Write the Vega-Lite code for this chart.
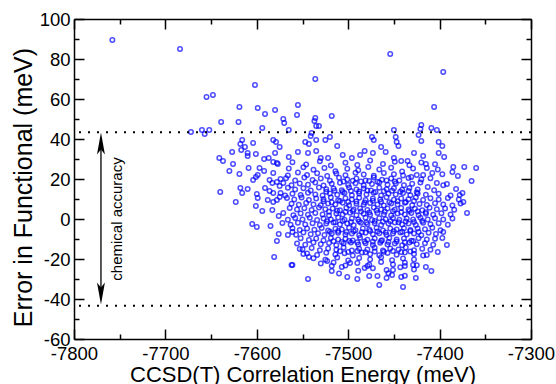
{
"$schema":"https://vega.github.io/schema/vega-lite/v6.json",
"width":457,"height":320,
"autosize":{"type":"none"},
"padding":{"left":74,"top":19,"right":25,"bottom":45},
"background":"white",
"datasets":{
"pts":[
{"x":-7758,"y":89.5},{"x":-7684,"y":85},{"x":-7454,"y":82.5},{"x":-7396,"y":73.5},{"x":-7536,"y":70},{"x":-7602,"y":67},{"x":-7655,"y":61},{"x":-7648,"y":62},{"x":-7555,"y":57},{"x":-7619,"y":56},{"x":-7406,"y":56},{"x":-7599,"y":55.5},{"x":-7580,"y":54.5},{"x":-7591,"y":52.5},{"x":-7556,"y":52},{"x":-7518,"y":51.5},{"x":-7536,"y":50.5},{"x":-7571,"y":50},{"x":-7537,"y":49},{"x":-7639,"y":48.5},{"x":-7620,"y":48.5},{"x":-7570,"y":48},{"x":-7420,"y":47},{"x":-7535,"y":46.5},{"x":-7532,"y":46.5},{"x":-7409,"y":45.5},{"x":-7594,"y":45.5},{"x":-7421,"y":45},{"x":-7565,"y":44.5},{"x":-7450,"y":44.5},{"x":-7403,"y":44.5},{"x":-7660,"y":44.5},{"x":-7652,"y":44.5},{"x":-7672,"y":43.5},{"x":-7657,"y":42.5},{"x":-7540,"y":43},{"x":-7423,"y":42},{"x":-7541,"y":41.5},{"x":-7448,"y":41},{"x":-7474,"y":41},{"x":-7520,"y":41},
{"x":-7547,"y":38.5},{"x":-7543,"y":37.5},{"x":-7535,"y":39.5},{"x":-7525,"y":39.5},{"x":-7512,"y":36.5},{"x":-7555,"y":33.5},{"x":-7544,"y":33},{"x":-7535,"y":34},{"x":-7530,"y":30.5},{"x":-7522,"y":30.5},{"x":-7506,"y":32},{"x":-7496,"y":30.5},{"x":-7487,"y":32},{"x":-7482,"y":34},{"x":-7473,"y":33},{"x":-7464,"y":36},{"x":-7472,"y":39.5},{"x":-7459,"y":33.5},{"x":-7447,"y":38.5},{"x":-7445,"y":36.5},{"x":-7420,"y":39},{"x":-7401,"y":38.5},{"x":-7397,"y":36.5},{"x":-7428,"y":33},{"x":-7401,"y":33},{"x":-7418,"y":31.5},{"x":-7395,"y":31},{"x":-7450,"y":30.5},{"x":-7442,"y":29},{"x":-7435,"y":29},{"x":-7415,"y":27.5},{"x":-7414,"y":25.5},{"x":-7385,"y":26},{"x":-7373,"y":26},{"x":-7360,"y":25.5},{"x":-7386,"y":23.5},{"x":-7408,"y":23},{"x":-7425,"y":22},{"x":-7380,"y":21.5},{"x":-7431,"y":21},{"x":-7365,"y":19},{"x":-7392,"y":17.5},{"x":-7403,"y":18},{"x":-7413,"y":16},{"x":-7382,"y":15},{"x":-7375,"y":13},{"x":-7565,"y":31},
{"x":-7616,"y":39.5},{"x":-7618,"y":37.5},{"x":-7613,"y":36},{"x":-7604,"y":38},{"x":-7617,"y":34.5},{"x":-7627,"y":33.5},{"x":-7610,"y":33},{"x":-7610,"y":31.5},{"x":-7601,"y":32.5},{"x":-7582,"y":39.5},{"x":-7579,"y":38.5},{"x":-7575,"y":36},{"x":-7580,"y":33},{"x":-7641,"y":30.5},{"x":-7637,"y":29},{"x":-7626,"y":27.5},{"x":-7630,"y":24},{"x":-7619,"y":22.5},{"x":-7592,"y":30},{"x":-7582,"y":28.5},{"x":-7577,"y":27.5},{"x":-7597,"y":25.5},{"x":-7592,"y":24},{"x":-7599,"y":22},{"x":-7601,"y":21},{"x":-7582,"y":23},{"x":-7604,"y":19.5},{"x":-7586,"y":19.5},{"x":-7583,"y":18},{"x":-7578,"y":18.5},{"x":-7574,"y":20},{"x":-7591,"y":15.5},{"x":-7618,"y":15.5},{"x":-7616,"y":13},{"x":-7610,"y":15},{"x":-7640,"y":13.5},{"x":-7600,"y":12.5},{"x":-7599,"y":10.5},{"x":-7623,"y":8.5},{"x":-7586,"y":14},{"x":-7582,"y":13},{"x":-7588,"y":9.5},{"x":-7582,"y":8.5},{"x":-7578,"y":9.5},{"x":-7575,"y":16.5},{"x":-7574,"y":13},{"x":-7575,"y":11},{"x":-7601,"y":6.5},{"x":-7594,"y":4},{"x":-7583,"y":4.5},{"x":-7576,"y":1.5},{"x":-7571,"y":3},{"x":-7605,"y":-2.5},{"x":-7600,"y":-4},{"x":-7585,"y":-3.5},{"x":-7572,"y":-2},{"x":-7576,"y":-7.5},{"x":-7578,"y":-11},{"x":-7581,"y":-19},{"x":-7609,"y":25.5},{"x":-7587,"y":30.5},{"x":-7578,"y":28},
{"x":-7561,"y":-23},{"x":-7544,"y":-30},{"x":-7523,"y":-21},{"x":-7518,"y":-23.5},{"x":-7518,"y":-26},{"x":-7507,"y":-24},{"x":-7501,"y":-29},{"x":-7498,"y":-22},{"x":-7490,"y":-30},{"x":-7482,"y":-24.5},{"x":-7477,"y":-28.5},{"x":-7468,"y":-28.5},{"x":-7466,"y":-33},{"x":-7479,"y":-23.5},{"x":-7440,"y":-34},{"x":-7458,"y":-29.5},{"x":-7452,"y":-28},{"x":-7442,"y":-29},{"x":-7426,"y":-29.5},{"x":-7409,"y":-26},{"x":-7415,"y":-24},{"x":-7429,"y":-23},{"x":-7438,"y":-23.5},{"x":-7451,"y":-25.5},{"x":-7414,"y":-18},{"x":-7402,"y":-16.5},{"x":-7392,"y":-13},{"x":-7397,"y":-9.5},{"x":-7396,"y":-6.5},{"x":-7370,"y":3},{"x":-7374,"y":8.5},{"x":-7378,"y":12},{"x":-7553,"y":-15},{"x":-7549,"y":-17.5},{"x":-7543,"y":-19},{"x":-7561,"y":-6.5},{"x":-7566,"y":-8},{"x":-7562,"y":-23},
{"x":-7561,"y":28.4},{"x":-7546,"y":27.2},{"x":-7531,"y":28.9},{"x":-7519,"y":26.8},{"x":-7503,"y":28.1},{"x":-7490,"y":27},{"x":-7476,"y":29.2},{"x":-7462,"y":27.5},{"x":-7449,"y":28.6},{"x":-7433,"y":26.9},{"x":-7420,"y":28.3},{"x":-7405,"y":27.4},
{"x":-7565,"y":25.3},{"x":-7549,"y":25.9},{"x":-7538,"y":24.6},{"x":-7526,"y":25.5},{"x":-7514,"y":23.9},{"x":-7501,"y":25.1},{"x":-7489,"y":24.4},{"x":-7478,"y":26},{"x":-7466,"y":24.8},{"x":-7453,"y":25.6},{"x":-7441,"y":23.8},{"x":-7429,"y":25.2},{"x":-7402,"y":24.8},
{"x":-7566,"y":21.8},{"x":-7555,"y":23.2},{"x":-7545,"y":22},{"x":-7534,"y":22.9},{"x":-7523,"y":21.5},{"x":-7513,"y":22.7},{"x":-7503,"y":21.9},{"x":-7492,"y":23.1},{"x":-7483,"y":22.2},{"x":-7472,"y":21.6},{"x":-7461,"y":23},{"x":-7450,"y":22.4},{"x":-7440,"y":21.7},{"x":-7418,"y":22},{"x":-7397,"y":22.4},
{"x":-7568,"y":20.4},{"x":-7558,"y":19.2},{"x":-7548,"y":20.8},{"x":-7539,"y":19.5},{"x":-7530,"y":20.2},{"x":-7520,"y":19.1},{"x":-7510,"y":20.6},{"x":-7501,"y":19.8},{"x":-7491,"y":20.3},{"x":-7481,"y":19.2},{"x":-7472,"y":20.7},{"x":-7463,"y":19.6},{"x":-7453,"y":20.2},{"x":-7444,"y":19.3},{"x":-7434,"y":20.5},{"x":-7420,"y":19.7},{"x":-7410,"y":20.4},
{"x":-7571,"y":18},{"x":-7562,"y":16.9},{"x":-7553,"y":17.8},{"x":-7544,"y":17.1},{"x":-7536,"y":18.2},{"x":-7527,"y":16.8},{"x":-7518,"y":17.6},{"x":-7509,"y":18.1},{"x":-7500,"y":17},{"x":-7492,"y":17.9},{"x":-7483,"y":16.7},{"x":-7474,"y":17.5},{"x":-7466,"y":18.3},{"x":-7457,"y":17.1},{"x":-7448,"y":17.8},{"x":-7439,"y":16.9},{"x":-7430,"y":17.6},{"x":-7421,"y":18.2},{"x":-7396,"y":16.9},
{"x":-7566,"y":15.6},{"x":-7558,"y":14.8},{"x":-7549,"y":15.4},{"x":-7541,"y":14.3},{"x":-7532,"y":15.8},{"x":-7524,"y":14.9},{"x":-7516,"y":15.3},{"x":-7507,"y":14.4},{"x":-7499,"y":15.7},{"x":-7491,"y":14.8},{"x":-7483,"y":15.2},{"x":-7475,"y":14.3},{"x":-7466,"y":15.6},{"x":-7458,"y":14.9},{"x":-7450,"y":15.4},{"x":-7441,"y":14.6},{"x":-7433,"y":15.5},{"x":-7424,"y":14.7},{"x":-7406,"y":14.4},
{"x":-7569,"y":11.8},{"x":-7561,"y":12.6},{"x":-7552,"y":12},{"x":-7544,"y":13.1},{"x":-7536,"y":12.3},{"x":-7528,"y":11.7},{"x":-7520,"y":12.8},{"x":-7512,"y":12.1},{"x":-7504,"y":13},{"x":-7496,"y":11.9},{"x":-7488,"y":12.7},{"x":-7480,"y":12.2},{"x":-7472,"y":13.1},{"x":-7464,"y":11.8},{"x":-7456,"y":12.6},{"x":-7448,"y":12.3},{"x":-7440,"y":13},{"x":-7432,"y":11.9},{"x":-7424,"y":12.7},{"x":-7415,"y":12.1},{"x":-7401,"y":12.6},{"x":-7388,"y":11.8},
{"x":-7567,"y":10.5},{"x":-7559,"y":9.8},{"x":-7551,"y":10.7},{"x":-7543,"y":9.5},{"x":-7535,"y":10.2},{"x":-7527,"y":9.9},{"x":-7519,"y":10.8},{"x":-7511,"y":9.4},{"x":-7503,"y":10.4},{"x":-7496,"y":9.7},{"x":-7488,"y":10.6},{"x":-7481,"y":9.5},{"x":-7473,"y":10.3},{"x":-7465,"y":9.8},{"x":-7458,"y":10.9},{"x":-7450,"y":9.6},{"x":-7442,"y":10.2},{"x":-7434,"y":9.9},{"x":-7426,"y":10.7},{"x":-7418,"y":9.5},{"x":-7410,"y":10.4},{"x":-7401,"y":9.8},{"x":-7391,"y":10.5},{"x":-7379,"y":9.7},
{"x":-7562,"y":7.6},{"x":-7554,"y":7.1},{"x":-7546,"y":8},{"x":-7538,"y":7.3},{"x":-7530,"y":6.9},{"x":-7522,"y":7.8},{"x":-7514,"y":7.2},{"x":-7506,"y":8.1},{"x":-7499,"y":6.9},{"x":-7491,"y":7.6},{"x":-7483,"y":7.1},{"x":-7476,"y":8},{"x":-7468,"y":7.3},{"x":-7461,"y":6.8},{"x":-7453,"y":7.7},{"x":-7446,"y":7.2},{"x":-7438,"y":8.1},{"x":-7430,"y":6.9},{"x":-7422,"y":7.5},{"x":-7414,"y":7},{"x":-7405,"y":7.9},{"x":-7396,"y":7.2},{"x":-7386,"y":6.8},
{"x":-7564,"y":5.5},{"x":-7556,"y":4.8},{"x":-7548,"y":5.4},{"x":-7540,"y":4.5},{"x":-7532,"y":5.7},{"x":-7525,"y":4.9},{"x":-7517,"y":5.3},{"x":-7509,"y":4.4},{"x":-7502,"y":5.6},{"x":-7494,"y":4.8},{"x":-7487,"y":5.2},{"x":-7479,"y":4.5},{"x":-7472,"y":5.8},{"x":-7464,"y":4.7},{"x":-7457,"y":5.3},{"x":-7449,"y":4.6},{"x":-7442,"y":5.5},{"x":-7434,"y":4.8},{"x":-7427,"y":5.1},{"x":-7419,"y":4.4},{"x":-7411,"y":5.6},{"x":-7403,"y":4.9},{"x":-7394,"y":5.3},{"x":-7384,"y":4.6},
{"x":-7560,"y":1.9},{"x":-7552,"y":2.7},{"x":-7544,"y":2.1},{"x":-7536,"y":3},{"x":-7528,"y":2.3},{"x":-7521,"y":1.8},{"x":-7513,"y":2.8},{"x":-7506,"y":2.2},{"x":-7498,"y":3.1},{"x":-7491,"y":1.9},{"x":-7483,"y":2.6},{"x":-7476,"y":2.1},{"x":-7468,"y":3},{"x":-7461,"y":2.3},{"x":-7453,"y":1.8},{"x":-7446,"y":2.8},{"x":-7438,"y":2.2},{"x":-7431,"y":3},{"x":-7423,"y":1.9},{"x":-7415,"y":2.6},{"x":-7407,"y":2.1},{"x":-7398,"y":2.9},{"x":-7388,"y":2.3},{"x":-7377,"y":7.8},
{"x":-7566,"y":-0.4},{"x":-7558,"y":0.5},{"x":-7550,"y":-0.2},{"x":-7542,"y":0.6},{"x":-7534,"y":-0.5},{"x":-7527,"y":0.2},{"x":-7519,"y":-0.3},{"x":-7511,"y":0.7},{"x":-7504,"y":-0.4},{"x":-7496,"y":0.3},{"x":-7489,"y":-0.2},{"x":-7481,"y":0.6},{"x":-7474,"y":-0.5},{"x":-7466,"y":0.4},{"x":-7459,"y":-0.1},{"x":-7451,"y":0.5},{"x":-7444,"y":-0.4},{"x":-7436,"y":0.3},{"x":-7429,"y":-0.3},{"x":-7421,"y":0.6},{"x":-7413,"y":-0.2},{"x":-7405,"y":0.4},{"x":-7396,"y":-0.3},{"x":-7386,"y":0.2},
{"x":-7563,"y":-2.9},{"x":-7555,"y":-1.9},{"x":-7547,"y":-2.7},{"x":-7539,"y":-2.1},{"x":-7531,"y":-3},{"x":-7524,"y":-2.3},{"x":-7516,"y":-1.8},{"x":-7509,"y":-2.8},{"x":-7501,"y":-2.2},{"x":-7494,"y":-3.1},{"x":-7486,"y":-1.9},{"x":-7479,"y":-2.6},{"x":-7471,"y":-2.1},{"x":-7464,"y":-3},{"x":-7456,"y":-2.3},{"x":-7449,"y":-1.8},{"x":-7441,"y":-2.8},{"x":-7434,"y":-2.2},{"x":-7426,"y":-3},{"x":-7418,"y":-1.9},{"x":-7410,"y":-2.6},{"x":-7401,"y":-2.1},{"x":-7391,"y":-2.9},
{"x":-7561,"y":-4.6},{"x":-7553,"y":-5.5},{"x":-7545,"y":-4.8},{"x":-7537,"y":-5.4},{"x":-7529,"y":-4.5},{"x":-7522,"y":-5.7},{"x":-7514,"y":-4.9},{"x":-7507,"y":-5.3},{"x":-7499,"y":-4.4},{"x":-7492,"y":-5.6},{"x":-7484,"y":-4.8},{"x":-7477,"y":-5.2},{"x":-7469,"y":-4.5},{"x":-7462,"y":-5.8},{"x":-7454,"y":-4.7},{"x":-7447,"y":-5.3},{"x":-7439,"y":-4.6},{"x":-7432,"y":-5.5},{"x":-7424,"y":-4.8},{"x":-7416,"y":-5.1},{"x":-7408,"y":-4.4},{"x":-7399,"y":-5.6},
{"x":-7557,"y":-7.9},{"x":-7549,"y":-6.8},{"x":-7541,"y":-7.6},{"x":-7533,"y":-7.1},{"x":-7526,"y":-8},{"x":-7518,"y":-7.3},{"x":-7511,"y":-6.9},{"x":-7503,"y":-7.8},{"x":-7496,"y":-7.2},{"x":-7488,"y":-8.1},{"x":-7481,"y":-6.9},{"x":-7473,"y":-7.6},{"x":-7466,"y":-7.1},{"x":-7458,"y":-8},{"x":-7451,"y":-7.3},{"x":-7443,"y":-6.8},{"x":-7436,"y":-7.7},{"x":-7428,"y":-7.2},{"x":-7420,"y":-8.1},{"x":-7412,"y":-6.9},{"x":-7404,"y":-7.5},
{"x":-7552,"y":-9.6},{"x":-7543,"y":-10.5},{"x":-7535,"y":-9.8},{"x":-7527,"y":-10.7},{"x":-7519,"y":-9.5},{"x":-7511,"y":-10.2},{"x":-7503,"y":-9.9},{"x":-7495,"y":-10.8},{"x":-7487,"y":-9.4},{"x":-7479,"y":-10.4},{"x":-7471,"y":-9.7},{"x":-7463,"y":-10.6},{"x":-7455,"y":-9.5},{"x":-7447,"y":-10.3},{"x":-7439,"y":-9.8},{"x":-7431,"y":-10.9},{"x":-7423,"y":-9.6},{"x":-7414,"y":-10.2},{"x":-7405,"y":-9.9},
{"x":-7556,"y":-12.2},{"x":-7547,"y":-12.9},{"x":-7538,"y":-11.8},{"x":-7530,"y":-12.6},{"x":-7521,"y":-12},{"x":-7513,"y":-13.1},{"x":-7505,"y":-12.3},{"x":-7497,"y":-11.7},{"x":-7489,"y":-12.8},{"x":-7481,"y":-12.1},{"x":-7473,"y":-13},{"x":-7465,"y":-11.9},{"x":-7457,"y":-12.7},{"x":-7449,"y":-12.2},{"x":-7441,"y":-13.1},{"x":-7433,"y":-11.8},{"x":-7425,"y":-12.6},{"x":-7416,"y":-12.1},{"x":-7407,"y":-12.9},
{"x":-7550,"y":-15.1},{"x":-7540,"y":-14.5},{"x":-7531,"y":-15.6},{"x":-7522,"y":-14.8},{"x":-7513,"y":-15.4},{"x":-7505,"y":-14.3},{"x":-7496,"y":-15.8},{"x":-7488,"y":-14.9},{"x":-7479,"y":-15.3},{"x":-7471,"y":-14.4},{"x":-7462,"y":-15.7},{"x":-7454,"y":-14.8},{"x":-7445,"y":-15.2},{"x":-7437,"y":-14.3},{"x":-7428,"y":-15.6},{"x":-7419,"y":-14.9},{"x":-7410,"y":-15.4},
{"x":-7545,"y":-17.2},{"x":-7534,"y":-18},{"x":-7524,"y":-16.9},{"x":-7514,"y":-17.8},{"x":-7504,"y":-17.1},{"x":-7495,"y":-18.2},{"x":-7485,"y":-16.8},{"x":-7476,"y":-17.6},{"x":-7466,"y":-18.1},{"x":-7457,"y":-17},{"x":-7447,"y":-17.9},{"x":-7438,"y":-16.7},{"x":-7428,"y":-17.5},{"x":-7418,"y":-18.3},
{"x":-7538,"y":-19.6},{"x":-7525,"y":-20.4},{"x":-7512,"y":-19.2},{"x":-7500,"y":-20.8},{"x":-7488,"y":-19.5},{"x":-7476,"y":-20.2},{"x":-7464,"y":-19.1},{"x":-7452,"y":-20.6},{"x":-7440,"y":-19.8},{"x":-7428,"y":-20.3},
{"x":-7530,"y":-22.3},{"x":-7516,"y":-21.8},{"x":-7503,"y":-23.2},{"x":-7490,"y":-22},{"x":-7477,"y":-22.9},{"x":-7464,"y":-21.5},{"x":-7451,"y":-22.7},{"x":-7438,"y":-21.9},{"x":-7425,"y":-23.1},
{"x":-7489,"y":-25.9},{"x":-7473,"y":-24.6},{"x":-7458,"y":-25.5},{"x":-7443,"y":-24.1},{"x":-7428,"y":-25.2},
{"x":-7510,"y":-27.2},{"x":-7456,"y":-27.1},{"x":-7438,"y":-28.4},
{"x":-7524,"y":13.6},{"x":-7515,"y":14.1},{"x":-7506,"y":13.5},{"x":-7497,"y":14},{"x":-7488,"y":13.7},{"x":-7479,"y":14.2},{"x":-7470,"y":13.5},{"x":-7461,"y":13.9},{"x":-7452,"y":14.1},{"x":-7443,"y":13.6},{"x":-7434,"y":14},{"x":-7425,"y":13.4},
{"x":-7527,"y":8.9},{"x":-7518,"y":8.4},{"x":-7509,"y":9},{"x":-7500,"y":8.5},{"x":-7491,"y":8.8},{"x":-7482,"y":8.3},{"x":-7473,"y":9.1},{"x":-7464,"y":8.6},{"x":-7455,"y":8.4},{"x":-7446,"y":8.9},{"x":-7437,"y":8.5},{"x":-7428,"y":9},
{"x":-7521,"y":3.6},{"x":-7512,"y":4.1},{"x":-7503,"y":3.5},{"x":-7495,"y":4},{"x":-7486,"y":3.7},{"x":-7477,"y":3.3},{"x":-7469,"y":4.2},{"x":-7460,"y":3.6},{"x":-7451,"y":3.9},{"x":-7442,"y":3.4},{"x":-7433,"y":4},{"x":-7424,"y":3.7},{"x":-7415,"y":3.4},
{"x":-7523,"y":-1.1},{"x":-7514,"y":-1.6},{"x":-7506,"y":-1},{"x":-7497,"y":-1.5},{"x":-7488,"y":-1.2},{"x":-7480,"y":-1.7},{"x":-7471,"y":-1},{"x":-7462,"y":-1.4},{"x":-7454,"y":-1.1},{"x":-7445,"y":-1.6},{"x":-7437,"y":-1.2},{"x":-7428,"y":-1.5},{"x":-7419,"y":-1},
{"x":-7520,"y":-6.4},{"x":-7511,"y":-6},{"x":-7502,"y":-6.5},{"x":-7494,"y":-6.1},{"x":-7485,"y":-6.6},{"x":-7476,"y":-6},{"x":-7468,"y":-6.3},{"x":-7459,"y":-6.7},{"x":-7450,"y":-6.1},{"x":-7441,"y":-6.4},{"x":-7432,"y":-6},{"x":-7423,"y":-6.5},
{"x":-7516,"y":-11.1},{"x":-7507,"y":-11.5},{"x":-7499,"y":-11},{"x":-7490,"y":-11.6},{"x":-7482,"y":-11.2},{"x":-7473,"y":-11.4},{"x":-7464,"y":-11},{"x":-7456,"y":-11.5},{"x":-7447,"y":-11.2},{"x":-7438,"y":-11.6},{"x":-7429,"y":-11},
{"x":-7509,"y":-16.1},{"x":-7500,"y":-16.5},{"x":-7490,"y":-16},{"x":-7481,"y":-16.6},{"x":-7471,"y":-16.2},{"x":-7461,"y":-16.4},{"x":-7451,"y":-16},{"x":-7442,"y":-16.5},{"x":-7432,"y":-16.2},
{"x":-7505,"y":18.8},{"x":-7495,"y":19.1},{"x":-7486,"y":18.7},{"x":-7477,"y":19},{"x":-7468,"y":18.6},{"x":-7458,"y":19.2},{"x":-7449,"y":18.8}
],
"lims":[{"y":43.4},{"y":-43.4}],
"arrow":[{"x":-7770.5,"y":37,"y2":-37}],
"headUp":[{"x":-7770.5,"y":37.75}],
"headDown":[{"x":-7770.5,"y":-37.25}],
"lab":[{"x":-7753,"y":0,"t":"chemical accuracy"}]
},
"resolve":{"axis":{"x":"independent","y":"independent"}},
"layer":[
{"data":{"name":"pts"},
 "mark":{"type":"point","shape":"circle","filled":false,"stroke":"#0000ff","strokeWidth":1.5,"size":20},
 "encoding":{
  "x":{"field":"x","type":"quantitative","scale":{"domain":[-7800,-7300],"nice":false,"zero":false},
   "axis":{"orient":"bottom","values":[-7800,-7700,-7600,-7500,-7400,-7300],"ticks":false,"tickSize":0,"labelPadding":5,"labelFontSize":18.5,"labelFlush":false,"labelOverlap":false,"labelExpr":"'' + datum.value","title":"CCSD(T) Correlation Energy (meV)","titleFontSize":22,"titleX":228.5,"titleY":42,"titleBaseline":"alphabetic","titleAnchor":"middle"}},
  "y":{"field":"y","type":"quantitative","scale":{"domain":[-60,100],"nice":false,"zero":false},
   "axis":{"orient":"left","values":[-60,-40,-20,0,20,40,60,80,100],"ticks":false,"tickSize":0,"labelPadding":4,"labelFontSize":18.5,"labelFlush":false,"labelOverlap":false,"labelExpr":"'' + datum.value","title":"Error in Functional (meV)","titleFontSize":25,"titleX":-43,"titleY":168,"titleAngle":270,"titleBaseline":"alphabetic","titleAlign":"center"}}
 }},
{"data":{"name":"lims"},
 "mark":{"type":"rule","color":"#000","strokeWidth":2,"strokeDash":[2,7]},
 "encoding":{"y":{"field":"y","type":"quantitative","scale":{"domain":[-60,100],"nice":false,"zero":false},"axis":null}}},
{"data":{"name":"arrow"},
 "mark":{"type":"rule","color":"#000","strokeWidth":1.3},
 "encoding":{
  "x":{"field":"x","type":"quantitative","scale":{"domain":[-7800,-7300],"nice":false,"zero":false},
   "axis":{"orient":"bottom","values":[-7800,-7700,-7600,-7500,-7400,-7300],"tickSize":-10,"labels":false,"domain":false,"title":null}},
  "y":{"field":"y","type":"quantitative","scale":{"domain":[-60,100],"nice":false,"zero":false},
   "axis":{"orient":"left","values":[-60,-40,-20,0,20,40,60,80,100],"tickSize":-10,"labels":false,"domain":false,"title":null}},
  "y2":{"field":"y2"}
 }},
{"data":{"name":"headUp"},
 "mark":{"type":"point","filled":true,"color":"#000","opacity":1,"size":484,"strokeWidth":0,"shape":"M0,-1L0.36,1L0,0.55L-0.36,1Z"},
 "encoding":{
  "x":{"field":"x","type":"quantitative","scale":{"domain":[-7800,-7300],"nice":false,"zero":false},
   "axis":{"orient":"bottom","values":[-7750,-7650,-7550,-7450,-7350],"tickSize":-5,"labels":false,"domain":false,"title":null}},
  "y":{"field":"y","type":"quantitative","scale":{"domain":[-60,100],"nice":false,"zero":false},
   "axis":{"orient":"left","values":[-50,-30,-10,10,30,50,70,90],"tickSize":-5,"labels":false,"domain":false,"title":null}}
 }},
{"data":{"name":"headDown"},
 "mark":{"type":"point","filled":true,"color":"#000","opacity":1,"size":484,"strokeWidth":0,"shape":"M0,1L0.36,-1L0,-0.55L-0.36,-1Z"},
 "encoding":{
  "x":{"field":"x","type":"quantitative","scale":{"domain":[-7800,-7300],"nice":false,"zero":false},
   "axis":{"orient":"top","values":[-7800,-7700,-7600,-7500,-7400,-7300],"tickSize":-10,"labels":false,"title":null}},
  "y":{"field":"y","type":"quantitative","scale":{"domain":[-60,100],"nice":false,"zero":false},
   "axis":{"orient":"right","values":[-60,-40,-20,0,20,40,60,80,100],"tickSize":-10,"labels":false,"title":null}}
 }},
{"data":{"name":"lab"},
 "mark":{"type":"text","angle":270,"align":"center","baseline":"middle","fontSize":15,"font":"Liberation Sans","color":"#000"},
 "encoding":{
  "x":{"field":"x","type":"quantitative","scale":{"domain":[-7800,-7300],"nice":false,"zero":false},
   "axis":{"orient":"top","values":[-7750,-7650,-7550,-7450,-7350],"tickSize":-5,"labels":false,"domain":false,"title":null}},
  "y":{"field":"y","type":"quantitative","scale":{"domain":[-60,100],"nice":false,"zero":false},
   "axis":{"orient":"right","values":[-50,-30,-10,10,30,50,70,90],"tickSize":-5,"labels":false,"domain":false,"title":null}},
  "text":{"field":"t"}
 }}
],
"config":{"view":{"stroke":null},"font":"Liberation Sans",
 "axis":{"grid":false,"domainColor":"#000","tickColor":"#000","labelColor":"#000","titleColor":"#000","labelFont":"Liberation Sans","titleFont":"Liberation Sans","titleFontWeight":"normal","domainWidth":1.5,"tickWidth":1.5}}
}
